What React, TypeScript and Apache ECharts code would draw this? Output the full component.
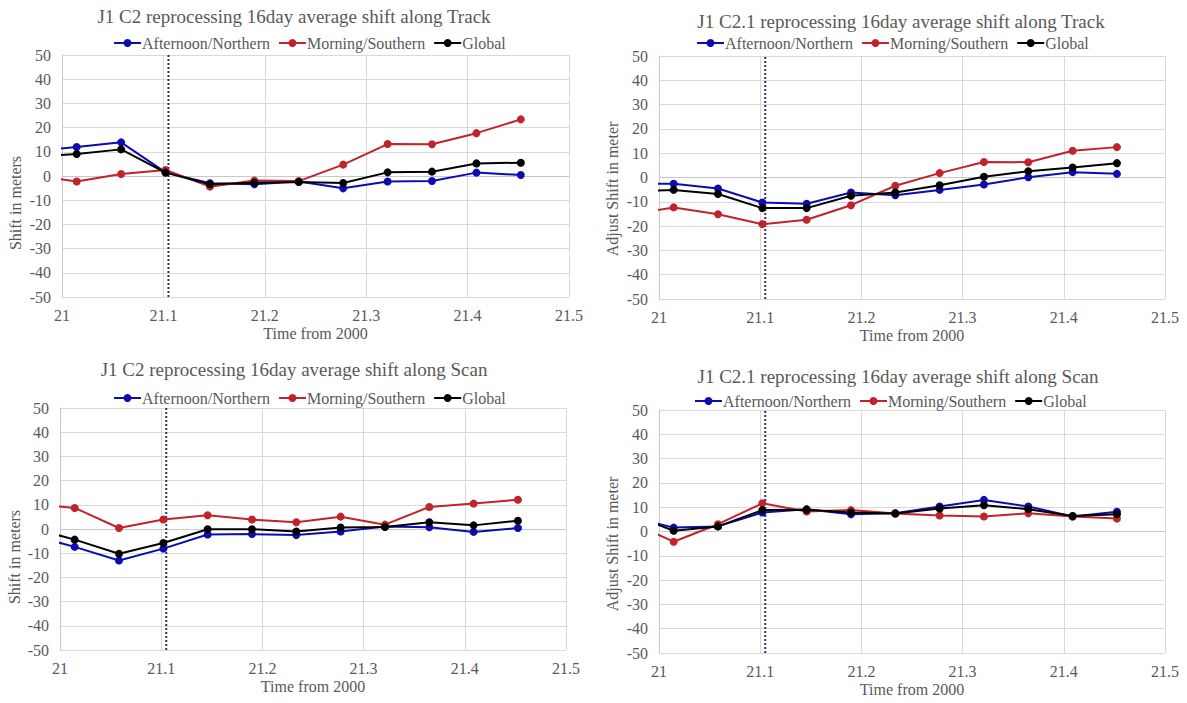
import React, { useEffect, useRef } from "react";
import * as echarts from "echarts";

// Time from 2000 (years) of each 16-day average; first point lies just before the axis start
const times = [20.9707, 21.0145, 21.0583, 21.1021, 21.1459, 21.1897, 21.2335, 21.2773, 21.3211, 21.3649, 21.4087, 21.4525];
const seriesNames = ["Afternoon/Northern", "Morning/Southern", "Global"];
const reprocessMarkX = 21.105;
const markYRange = [-50, 50];

const c2TrackAfternoon = [10.2, 12.0, 13.9, 1.5, -3.0, -3.4, -2.3, -5.1, -2.3, -2.1, 1.4, 0.4];
const c2TrackMorning = [0.4, -2.3, 0.8, 2.5, -4.4, -1.9, -2.1, 4.7, 13.2, 13.1, 17.7, 23.4];
const c2TrackGlobal = [7.9, 9.1, 11.0, 1.4, -3.4, -2.8, -2.5, -2.9, 1.5, 1.8, 5.2, 5.5];

const c21TrackAfternoon = [-2.6, -2.6, -4.5, -10.3, -10.8, -6.2, -7.3, -5.1, -2.9, 0.1, 2.2, 1.5];
const c21TrackMorning = [-15.3, -12.3, -15.1, -19.2, -17.4, -11.4, -3.4, 1.8, 6.4, 6.3, 11.0, 12.5];
const c21TrackGlobal = [-5.7, -5.1, -6.8, -12.6, -12.6, -7.5, -6.2, -3.2, 0.3, 2.6, 4.1, 5.9];

const c2ScanAfternoon = [-2.4, -7.4, -13.0, -8.1, -2.3, -2.1, -2.5, -1.0, 1.0, 0.7, -1.2, 0.4];
const c2ScanMorning = [10.3, 8.7, 0.4, 3.9, 5.7, 3.9, 2.8, 5.1, 1.8, 9.1, 10.5, 12.1];
const c2ScanGlobal = [0.6, -4.4, -10.2, -5.8, -0.1, -0.1, -1.0, 0.6, 0.8, 2.8, 1.5, 3.4];

const c21ScanAfternoon = [6.0, 1.6, 2.1, 7.8, 9.2, 7.1, 7.5, 10.3, 13.0, 10.3, 6.2, 8.1];
const c21ScanMorning = [4.0, -4.2, 3.0, 11.6, 8.2, 8.8, 7.4, 6.6, 6.2, 7.5, 6.2, 5.3];
const c21ScanGlobal = [7.3, 0.3, 2.1, 8.8, 8.9, 7.8, 7.4, 9.5, 10.8, 9.2, 6.4, 7.1];

const FONT = "Liberation Serif";
const TEXT = "#595959";
const GRID_LINE = "#d9d9d9";
const COLORS = ["#0c0cb0", "#c0232b", "#000000"];

const panels = [
  {
    title: "J1 C2 reprocessing 16day average shift along Track",
    yName: "Shift in meters",
    values: [c2TrackAfternoon, c2TrackMorning, c2TrackGlobal],
    grid: { left: 62, top: 55, width: 507, height: 242 },
    titleX: 294, titleY: 16, legendX: 113, legendY: 43, yNameX: 15, yNameY: 203,
  },
  {
    title: "J1 C2.1 reprocessing 16day average shift along Track",
    yName: "Adjust Shift in meter",
    values: [c21TrackAfternoon, c21TrackMorning, c21TrackGlobal],
    grid: { left: 659, top: 56, width: 506, height: 243 },
    titleX: 901, titleY: 21, legendX: 696, legendY: 43, yNameX: 612, yNameY: 189,
  },
  {
    title: "J1 C2 reprocessing 16day average shift along Scan",
    yName: "Shift in meters",
    values: [c2ScanAfternoon, c2ScanMorning, c2ScanGlobal],
    grid: { left: 60, top: 408, width: 506, height: 242 },
    titleX: 294, titleY: 369, legendX: 113, legendY: 398, yNameX: 14, yNameY: 557,
  },
  {
    title: "J1 C2.1 reprocessing 16day average shift along Scan",
    yName: "Adjust Shift in meter",
    values: [c21ScanAfternoon, c21ScanMorning, c21ScanGlobal],
    grid: { left: 659, top: 410, width: 506, height: 243 },
    titleX: 898, titleY: 376, legendX: 694, legendY: 401, yNameX: 612, yNameY: 544,
  },
];

export default function App() {
  const ref = useRef<HTMLDivElement>(null);

  useEffect(() => {
    if (!ref.current) return;
    const chart = echarts.init(ref.current, undefined, { renderer: "svg" });

    const title: any[] = [];
    const legend: any[] = [];
    const grid: any[] = [];
    const xAxis: any[] = [];
    const yAxis: any[] = [];
    const series: any[] = [];
    const graphic: any[] = [];

    panels.forEach((p, pi) => {
      title.push({
        text: p.title,
        left: p.titleX,
        top: p.titleY,
        textAlign: "center",
        textVerticalAlign: "middle",
        padding: 0,
        textStyle: { fontFamily: FONT, fontSize: 19, fontWeight: "normal", color: TEXT },
      });
      legend.push({
        data: seriesNames,
        left: p.legendX,
        top: p.legendY - 8,
        padding: 0,
        itemWidth: 27,
        itemHeight: 10,
        itemGap: 8,
        selectedMode: false,
        textStyle: { fontFamily: FONT, fontSize: 16, fontWeight: "normal", color: TEXT, padding: [0, 0, 0, -4] },
      });
      grid.push({ ...p.grid, containLabel: false });
      xAxis.push({
        type: "value",
        gridIndex: pi,
        min: 21,
        max: 21.5,
        interval: 0.1,
        name: "Time from 2000",
        nameLocation: "middle",
        nameGap: 28,
        nameTextStyle: { fontFamily: FONT, fontSize: 16, color: TEXT },
        axisLine: { show: true, lineStyle: { color: "#c8c8c8", width: 1 } },
        axisTick: { show: false },
        axisLabel: {
          fontFamily: FONT,
          fontSize: 16,
          fontWeight: "normal",
          color: TEXT,
          margin: 10,
          formatter: (v: number) => String(Math.round(v * 10) / 10),
        },
        splitLine: { show: true, lineStyle: { color: GRID_LINE, width: 1 } },
      });
      yAxis.push({
        type: "value",
        gridIndex: pi,
        min: -50,
        max: 50,
        interval: 10,
        axisLine: { show: true, lineStyle: { color: "#c8c8c8", width: 1 } },
        axisTick: { show: false },
        axisLabel: { fontFamily: FONT, fontSize: 16, fontWeight: "normal", color: TEXT, margin: 11 },
        splitLine: { show: true, lineStyle: { color: GRID_LINE, width: 1 } },
      });
      // dotted reprocessing marker, drawn through the axis scales
      series.push({
        type: "line",
        name: "reprocessing",
        xAxisIndex: pi,
        yAxisIndex: pi,
        data: markYRange.map((y) => [reprocessMarkX, y]),
        symbol: "none",
        silent: true,
        lineStyle: { type: [2, 2], color: "#3b2c6e", width: 2 },
        z: 2,
      });
      p.values.forEach((vals, si) => {
        series.push({
          type: "line",
          name: seriesNames[si],
          xAxisIndex: pi,
          yAxisIndex: pi,
          data: times.map((t, i) => [t, vals[i]]),
          symbol: "circle",
          symbolSize: 8,
          showSymbol: true,
          clip: true,
          color: COLORS[si],
          lineStyle: { color: COLORS[si], width: 2 },
          itemStyle: { color: COLORS[si] },
          z: 3 + si,
        });
      });
      graphic.push({
        type: "text",
        x: p.yNameX,
        y: p.yNameY,
        rotation: Math.PI / 2,
        style: {
          text: p.yName,
          fontFamily: FONT,
          fontSize: 16,
          fill: TEXT,
          align: "center",
          verticalAlign: "middle",
          textAlign: "center",
          textVerticalAlign: "middle",
        },
      });
    });

    chart.setOption({
      animation: false,
      backgroundColor: "#ffffff",
      textStyle: { fontFamily: FONT, color: TEXT },
      title,
      legend,
      grid,
      xAxis,
      yAxis,
      series,
      graphic,
    });

    return () => chart.dispose();
  }, []);

  return (
    <div
      ref={ref}
      style={{ position: "fixed", left: 0, top: 0, width: 1187, height: 703, background: "#fff" }}
    />
  );
}
